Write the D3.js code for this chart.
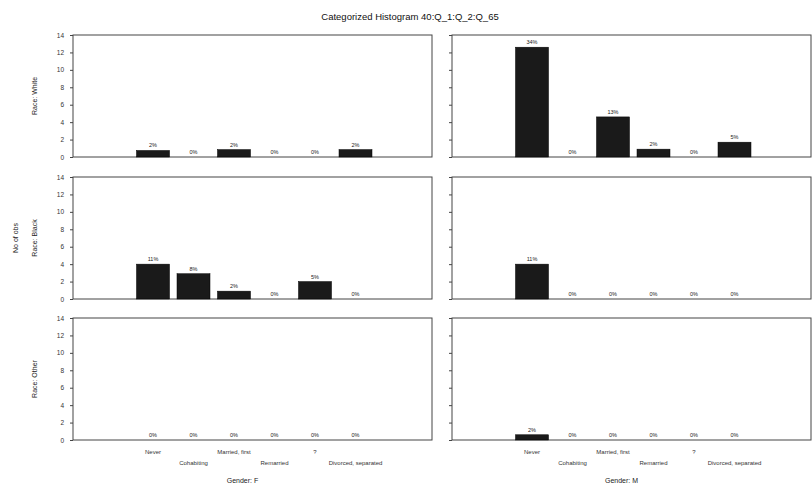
<!DOCTYPE html>
<html>
<head>
<meta charset="utf-8">
<script src="https://cdn.jsdelivr.net/npm/d3@7"></script>
<style>
  body { margin: 0; background: #fff; }
  text { font-family: "Liberation Sans", Arial, sans-serif; }
  .axis path { stroke: none; }
  .axis line { stroke: #444; }
  .axis text { font-size: 6.5px; fill: #333; }
</style>
</head>
<body>
<div id="chart"></div>
<script>
var title = "Categorized Histogram 40:Q_1:Q_2:Q_65";

var categories = ["Never", "Cohabiting", "Married, first", "Remarried", "?", "Divorced, separated"];
var rowNames = ["Race: White", "Race: Black", "Race: Other"];
var colNames = ["Gender: F", "Gender: M"];
var yTicks = [0, 2, 4, 6, 8, 10, 12, 14];

// heights, one array per panel (row, column)
var whiteF = [0.75, 0, 0.85, 0, 0, 0.85];
var whiteM = [12.6, 0, 4.6, 0.9, 0, 1.7];
var blackF = [4.0, 2.9, 0.9, 0, 2.0, 0];
var blackM = [4.0, 0, 0, 0, 0, 0];
var otherF = [0, 0, 0, 0, 0, 0];
var otherM = [0.6, 0, 0, 0, 0, 0];

var panels = [
  [whiteF, whiteM],
  [blackF, blackM],
  [otherF, otherM]
];

var width = 812, height = 489;
var colX = [73, 452];
var rowY = [35, 177, 318];
var panelW = 359, panelH = 122;

var total = d3.sum(panels, function(r) { return d3.sum(r, function(c) { return d3.sum(c); }); });
var pct = d3.format(".0%");

var svg = d3.select("#chart")
  .append("svg")
  .attr("width", width)
  .attr("height", height);

var x = d3.scaleBand()
  .domain(categories)
  .range([59.75, 302.75])
  .paddingInner(0.185)
  .paddingOuter(0.0925);

var y = d3.scaleLinear()
  .domain([0, 14])
  .range([panelH, 0]);

svg.append("text")
  .attr("x", 410)
  .attr("y", 20)
  .attr("text-anchor", "middle")
  .attr("font-size", "9.5px")
  .attr("fill", "#111")
  .text(title);

panels.forEach(function(row, r) {
  row.forEach(function(values, c) {
    var g = svg.append("g")
      .attr("transform", `translate(${colX[c]},${rowY[r]})`);

    g.append("rect")
      .attr("width", panelW)
      .attr("height", panelH)
      .attr("fill", "none")
      .attr("stroke", "#444")
      .attr("stroke-width", 1);

    g.append("g")
      .attr("class", "axis")
      .call(d3.axisLeft(y).tickValues(yTicks).tickSize(3).tickPadding(6)
        .tickFormat(c == 0 ? d3.format("d") : ""));

    g.selectAll(".bar")
      .data(values)
      .enter()
      .append("rect")
        .attr("class", "bar")
        .attr("x", function(d, i) { return x(categories[i]); })
        .attr("y", function(d) { return y(d); })
        .attr("width", x.bandwidth())
        .attr("height", function(d) { return y(0) - y(d); })
        .attr("fill", "#1a1a1a")
        .attr("stroke", "#000")
        .attr("stroke-width", 0.5);

    g.selectAll(".count")
      .data(values)
      .enter()
      .append("text")
        .attr("class", "count")
        .attr("x", function(d, i) { return x(categories[i]) + x.bandwidth() / 2; })
        .attr("y", function(d) { return y(d) - 3; })
        .attr("text-anchor", "middle")
        .attr("font-size", "5.5px")
        .attr("fill", "#222")
        .text(function(d) { return pct(d / total); });

    if (r == 2) {
      g.selectAll(".cat")
        .data(categories)
        .enter()
        .append("text")
          .attr("class", "cat")
          .attr("x", function(d) { return x(d) + x.bandwidth() / 2; })
          .attr("y", function(d, i) { return panelH + (i % 2 == 0 ? 14 : 25); })
          .attr("text-anchor", "middle")
          .attr("font-size", "6px")
          .attr("fill", "#333")
          .text(function(d) { return d; });

      g.append("text")
        .attr("x", panelW / 2 - 10)
        .attr("y", panelH + 43)
        .attr("text-anchor", "middle")
        .attr("font-size", "7px")
        .attr("fill", "#222")
        .text(colNames[c]);
    }

    if (c == 0) {
      g.append("text")
        .attr("transform", `translate(-36,${panelH / 2}) rotate(-90)`)
        .attr("text-anchor", "middle")
        .attr("font-size", "7px")
        .attr("fill", "#222")
        .text(rowNames[r]);
    }
  });
});

svg.append("text")
  .attr("transform", `translate(18,${rowY[1] + panelH / 2}) rotate(-90)`)
  .attr("text-anchor", "middle")
  .attr("font-size", "7px")
  .attr("fill", "#222")
  .text("No of obs");
</script>
</body>
</html>
